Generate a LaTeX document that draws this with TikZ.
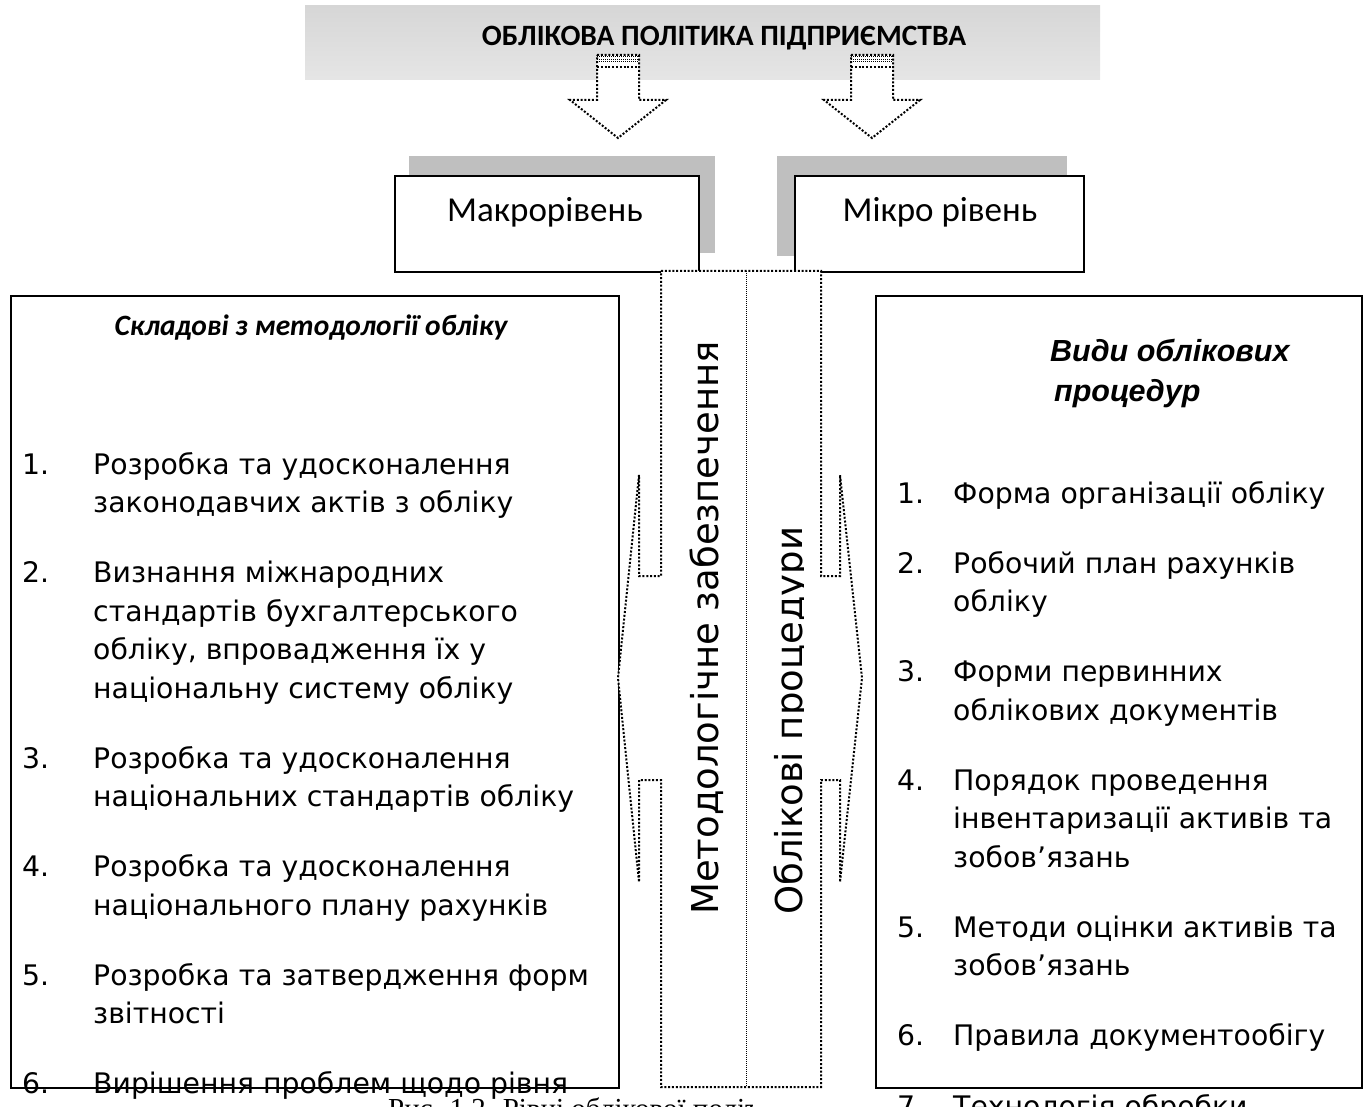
\documentclass[tikz,border=0pt]{standalone}
\usepackage{fontspec}
\newfontfamily\fCal{Carlito}
\newfontfamily\fVer{DejaVu Sans}
\newfontfamily\fAri{Liberation Sans}
\newfontfamily\fTnr{Liberation Serif}
\begin{document}
\begin{tikzpicture}[x=1pt,y=-1pt,
  dotln/.style={line width=2pt, dash pattern=on 2pt off 1.8pt},
  fineln/.style={line width=1pt, dash pattern=on 1pt off 1pt},
  boxln/.style={draw=black, line width=1.9pt, fill=white},
  shadowfill/.style={fill=black!25},
  li/.style={font=\fVer\fontsize{28.3}{32}\selectfont, anchor=base west, inner sep=0pt},
  lvl/.style={font=\fCal\fontsize{35}{38}\selectfont, inner sep=0pt},
  vtext/.style={font=\fVer\fontsize{37}{40}\selectfont, rotate=90, anchor=base west, inner sep=0pt}
]
\useasboundingbox (0,0) rectangle (1363,1107);
\clip (0,0) rectangle (1363,1107);

% banner
\shade[top color=black!16, middle color=black!2, bottom color=black!10] (305,6) rectangle (1100,80);
\node[font=\fCal\bfseries\fontsize{29.5}{31}\selectfont, inner sep=0pt] (title) at (724,38) {ОБЛІКОВА ПОЛІТИКА ПІДПРИЄМСТВА};

% shadows of level boxes
\fill[shadowfill] (409,156) rectangle (715,253);
\fill[shadowfill] (777,156) rectangle (1067,256);

% block arrows
\foreach \cx in {618,872}{
  \draw[dotln, fill=white] (\cx-21,55) -- (\cx+21,55) -- (\cx+21,100) -- (\cx+48,100) -- (\cx,138) -- (\cx-48,100) -- (\cx-21,100) -- cycle;
  \foreach \yy in {57,59.5,62}{\draw[fineln] (\cx-21,\yy) -- (\cx+21,\yy);}
  \draw[dotln] (\cx-21,67) -- (\cx+21,67);
}

% level boxes
\node[boxln, minimum width=304, minimum height=96, anchor=north west, inner sep=0pt] (macro) at (394,175) {};
\node[boxln, minimum width=289, minimum height=96, anchor=north west, inner sep=0pt] (micro) at (794,175) {};
\node[lvl] (macrot) at (545,212) {Макрорівень};
\node[lvl] (microt) at (940,212) {Мікро рівень};

% left and right boxes
\node[boxln, minimum width=608, minimum height=792, anchor=north west, inner sep=0pt] (lbox) at (10,295) {};
\node[boxln, minimum width=486, minimum height=792, anchor=north west, inner sep=0pt] (rbox) at (875,295) {};

% middle column (left-right arrow callout)
\draw[dotln, fill=white] (661,271) -- (821,271) -- (821,576) -- (840,576) -- (840,475) -- (862,678)
  -- (840,882) -- (840,780) -- (821,780) -- (821,1087) -- (661,1087) -- (661,780) -- (639,780)
  -- (639,882) -- (618,678) -- (639,475) -- (639,576) -- (661,576) -- cycle;
\draw[fineln] (746,271) -- (746,1087);

\node[vtext] (meth) at (718,915) {Методологічне забезпечення};
\begin{scope}
  \clip (760,300) rectangle (803,1000);
  \node[vtext] (proc) at (802,915) {Облікові процедури};
\end{scope}

% headings
\node[font=\fCal\bfseries\itshape\fontsize{29.5}{31}\selectfont, anchor=base, inner sep=0pt] (lhead) at (311,336) {Складові з методології обліку};
\node[font=\fAri\bfseries\itshape\fontsize{30.5}{33}\selectfont, anchor=base west, inner sep=0pt] (rhead1) at (1050,362) {Види облікових};
\node[font=\fAri\bfseries\itshape\fontsize{30.5}{33}\selectfont, anchor=base west, inner sep=0pt] (rhead2) at (1054,401) {процедур};

% left list
\node[li] (l1n) at (22,474) {1.};
\node[li] (l1a) at (93,474) {Розробка та удосконалення};
\node[li] (l1b) at (93,512.5) {законодавчих актів з обліку};
\node[li] (l2n) at (22,582.5) {2.};
\node[li] (l2a) at (93,582.5) {Визнання міжнародних};
\node[li] (l2b) at (93,621) {стандартів бухгалтерського};
\node[li] (l2c) at (93,659.5) {обліку, впровадження їх у};
\node[li] (l2d) at (93,698) {національну систему обліку};
\node[li] (l3n) at (22,768) {3.};
\node[li] (l3a) at (93,768) {Розробка та удосконалення};
\node[li] (l3b) at (93,806.5) {національних стандартів обліку};
\node[li] (l4n) at (22,876.5) {4.};
\node[li] (l4a) at (93,876.5) {Розробка та удосконалення};
\node[li] (l4b) at (93,915) {національного плану рахунків};
\node[li] (l5n) at (22,985) {5.};
\node[li] (l5a) at (93,985) {Розробка та затвердження форм};
\node[li] (l5b) at (93,1023.5) {звітності};
\node[li] (l6n) at (22,1093.5) {6.};
\node[li] (l6a) at (93,1093.5) {Вирішення проблем щодо рівня};

% right list
\node[li] (r1n) at (897,503) {1.};
\node[li] (r1a) at (953,503) {Форма організації обліку};
\node[li] (r2n) at (897,573) {2.};
\node[li] (r2a) at (953,573) {Робочий план рахунків};
\node[li] (r2b) at (953,611.5) {обліку};
\node[li] (r3n) at (897,681.5) {3.};
\node[li] (r3a) at (953,681.5) {Форми первинних};
\node[li] (r3b) at (953,720) {облікових документів};
\node[li] (r4n) at (897,790) {4.};
\node[li] (r4a) at (953,790) {Порядок проведення};
\node[li] (r4b) at (953,828.5) {інвентаризації активів та};
\node[li] (r4c) at (953,867) {зобов’язань};
\node[li] (r5n) at (897,937) {5.};
\node[li] (r5a) at (953,937) {Методи оцінки активів та};
\node[li] (r5b) at (953,975.5) {зобов’язань};
\node[li] (r6n) at (897,1045.5) {6.};
\node[li] (r6a) at (953,1045.5) {Правила документообігу};
\node[li] (r7n) at (897,1116) {7.};
\node[li] (r7a) at (953,1116) {Технологія обробки};

% caption (cut by the page edge and partly hidden)
\begin{scope}
  \clip (370,1089) rectangle (752,1107);
  \node[font=\fTnr\fontsize{29}{32}\selectfont, anchor=base west, inner sep=0pt] (cap) at (388,1118) {Рис. 1.2. Рівні облікової політики};
\end{scope}
\end{tikzpicture}
\end{document}
